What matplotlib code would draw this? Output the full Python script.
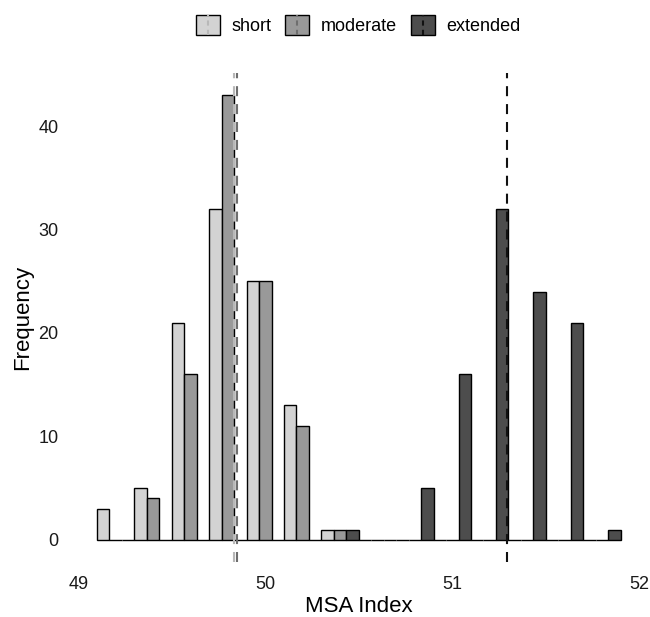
import numpy as np
import matplotlib
matplotlib.use('Agg')
import matplotlib.pyplot as plt
from matplotlib.patches import Rectangle
from matplotlib.lines import Line2D
from matplotlib.legend_handler import HandlerBase

plt.rcParams['font.family'] = ['Liberation Sans', 'DejaVu Sans']

# histogram bins (centres) and counts
bin_centers = [49.2, 49.4, 49.6, 49.8, 50.0, 50.2, 50.4,
               50.6, 50.8, 51.0, 51.2, 51.4, 51.6, 51.8]
short = [3, 5, 21, 32, 25, 13, 1, 0, 0, 0, 0, 0, 0, 0]
moderate = [0, 4, 16, 43, 25, 11, 1, 0, 0, 0, 0, 0, 0, 0]
extended = [0, 0, 0, 0, 0, 0, 1, 0, 5, 16, 32, 24, 21, 1]
group_means = [49.83, 49.85, 51.29]
groups = ['short', 'moderate', 'extended']
xticks = [49, 50, 51, 52]
yticks = [0, 10, 20, 30, 40]

binwidth = 0.2
fills = ['#d3d3d3', '#999999', '#4d4d4d']
line_cols = ['#b8b8b8', '#6e6e6e', '#111111']


class KeyHandle(object):
    def __init__(self, fill, lc):
        self.fill = fill
        self.lc = lc


class VDashHandler(HandlerBase):
    def create_artists(self, legend, orig_handle, xdescent, ydescent,
                       width, height, fontsize, trans):
        r = Rectangle((-xdescent, -ydescent), width, height,
                      facecolor=orig_handle.fill, edgecolor='black',
                      lw=1.0, transform=trans)
        x0 = -xdescent + width / 2
        l = Line2D([x0, x0], [-ydescent, -ydescent + height],
                   color=orig_handle.lc, ls=(0, (2.5, 2.0)), lw=1.5,
                   transform=trans)
        return [r, l]


fig = plt.figure(figsize=(6.5, 6.17), dpi=100)
ax = fig.add_axes([0.109, 0.089, 0.886, 0.793])

x = np.array(bin_centers)
w = binwidth / 3
for k, counts in enumerate([short, moderate, extended]):
    ax.bar(x + (k - 1) * w, counts, width=w, color=fills[k],
           edgecolor='black', linewidth=1.0, zorder=2)

for k, m in enumerate(group_means):
    ax.axvline(m, color=line_cols[k], ls=(0, (4.8, 3.8)), lw=1.5, zorder=3)

ax.set_xlim(48.96, 52.04)
ax.set_ylim(-2.15, 45.15)
ax.set_xticks(xticks)
ax.set_yticks(yticks)
ax.tick_params(length=0, labelsize=13, colors='#1a1a1a')
ax.tick_params(axis='x', pad=10)
ax.tick_params(axis='y', pad=9)
for s in ax.spines.values():
    s.set_visible(False)
ax.set_xlabel('MSA Index', fontsize=16, labelpad=2)
ax.set_ylabel('Frequency', fontsize=16, labelpad=4)

handles = [KeyHandle(fills[k], line_cols[k]) for k in range(3)]
fig.legend(handles, groups, handler_map={KeyHandle: VDashHandler()},
           loc='center', bbox_to_anchor=(0.551, 0.96), ncol=3,
           frameon=False, fontsize=13, handlelength=1.33, handleheight=1.33,
           handletextpad=0.66, columnspacing=0.75)

fig.savefig('out.png', dpi=100)
